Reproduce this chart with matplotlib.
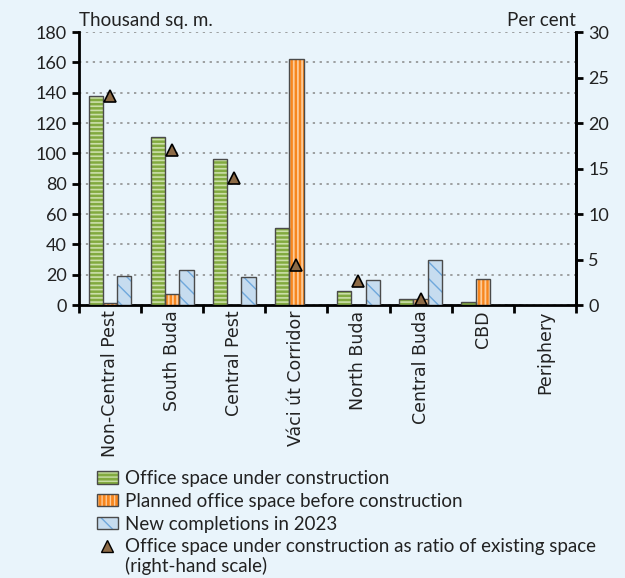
import numpy as np
import matplotlib
matplotlib.use('Agg')
import matplotlib.pyplot as plt
from matplotlib.patches import Patch
from matplotlib.lines import Line2D

# Data
regions = ['Non-Central Pest', 'South Buda', 'Central Pest', 'Váci út Corridor',
           'North Buda', 'Central Buda', 'CBD', 'Periphery']
under_construction = [138, 111, 96, 51, 9.5, 4, 2, 0]
planned = [1, 7, 0, 162, 0, 4, 17, 0]
completions_2023 = [19, 23, 18.5, 0, 16.5, 30, 0, 0]
ratio_pct = [23, 17, 14, 4.4, 2.6, 0.7, np.nan, np.nan]

bg = '#E9F4FB'
txt = '#222222'
edge = '#4a4a4a'
plt.rcParams['font.family'] = 'DejaVu Sans'

fig = plt.figure(figsize=(6.25, 5.78), dpi=100, facecolor=bg)
ax = fig.add_axes([0.1264, 0.4723, 0.795, 0.4723])
ax.set_facecolor(bg)

x = np.arange(len(regions))
w = 0.23

# (face, hatch colour, hatch, hatch linewidth) for each bar series
styles = [('#82AA40', '#CBDFA9', '----', 1.2),
          ('#F7861E', '#FDCB98', '||||', 1.3),
          ('#C6DCEF', '#6FA8DC', '\\\\', 1.0)]

def hatched_bars(xpos, vals, style):
    face, hcol, hatch, hlw = style
    plt.rcParams['hatch.linewidth'] = hlw
    ax.bar(xpos, vals, w, color=face, edgecolor=hcol, hatch=hatch,
           linewidth=0, zorder=3)
    ax.bar(xpos, vals, w, fill=False, edgecolor=edge, linewidth=1, zorder=4)

hatched_bars(x - w, under_construction, styles[0])
hatched_bars(x, planned, styles[1])
hatched_bars(x + w, completions_2023, styles[2])

ax.set_xlim(-0.5, len(regions) - 0.5)
ax.set_ylim(0, 180)
ax.set_yticks(range(0, 181, 20))
ax.set_xticks(np.arange(len(regions) + 1) - 0.5)
ax.set_xticklabels([])
ax.set_xticks(x, minor=True)
ax.set_xticklabels(regions, minor=True, rotation=90, fontsize=12.5, color=txt)
ax.tick_params(axis='x', which='minor', length=0, pad=4)
ax.tick_params(axis='x', which='major', length=6, width=2, direction='out')
ax.tick_params(axis='y', length=5, width=2, pad=4)
for lab in ax.get_yticklabels():
    lab.set_family('Lato')
    lab.set_fontsize(13)
    lab.set_color(txt)
ax.yaxis.grid(True, linestyle=(0, (1.5, 3)), color='#888888', linewidth=1.1, zorder=0)
ax.spines['top'].set_visible(False)
for s in ['left', 'right', 'bottom']:
    ax.spines[s].set_linewidth(2)

ax2 = ax.twinx()
ax2.set_ylim(0, 30)
ax2.set_yticks(range(0, 31, 5))
ax2.tick_params(axis='y', length=5, width=2, pad=4)
for lab in ax2.get_yticklabels():
    lab.set_family('Lato')
    lab.set_fontsize(13)
    lab.set_color(txt)
ax2.spines['top'].set_visible(False)
ax2.spines['right'].set_linewidth(2)
ax2.plot(x, ratio_pct, linestyle='none', marker='^', markersize=8.5,
         markerfacecolor='#8C6A46', markeredgecolor='black', markeredgewidth=1.2, zorder=5)

ax.text(0.0, 1.01, 'Thousand sq. m.', transform=ax.transAxes, ha='left', va='bottom',
        fontsize=13.5, family='Lato', color=txt)
ax.text(1.0, 1.01, 'Per cent', transform=ax.transAxes, ha='right', va='bottom',
        fontsize=13.5, family='Lato', color=txt)

# legend handles: hatched fill with light hatch, plus dark outline on top
handles = []
for face, hcol, hatch, hlw in styles:
    plt.rcParams['hatch.linewidth'] = hlw
    fill = Patch(facecolor=face, edgecolor=hcol, hatch=hatch, linewidth=0)
    outline = Patch(fill=False, edgecolor=edge, linewidth=1)
    handles.append((fill, outline))
handles.append(Line2D([], [], linestyle='none', marker='^', markersize=8,
                      markerfacecolor='#8C6A46', markeredgecolor='black'))
labels = ['Office space under construction',
          'Planned office space before construction',
          'New completions in 2023',
          'Office space under construction as ratio of existing space']
leg = fig.legend(handles, labels, loc='upper left', bbox_to_anchor=(0.155, 0.187),
                 frameon=False, prop={'family': 'Lato', 'size': 13.5},
                 handlelength=1.1, handleheight=0.65, handletextpad=0.4,
                 labelspacing=0.31, borderaxespad=0, borderpad=0)
for t in leg.get_texts():
    t.set_color(txt)
fig.text(125 / 625, 1 - 566 / 578, '(right-hand scale)', ha='left', va='center',
         fontsize=13.5, family='Lato', color=txt)

fig.savefig('out.png', dpi=100, facecolor=bg)
